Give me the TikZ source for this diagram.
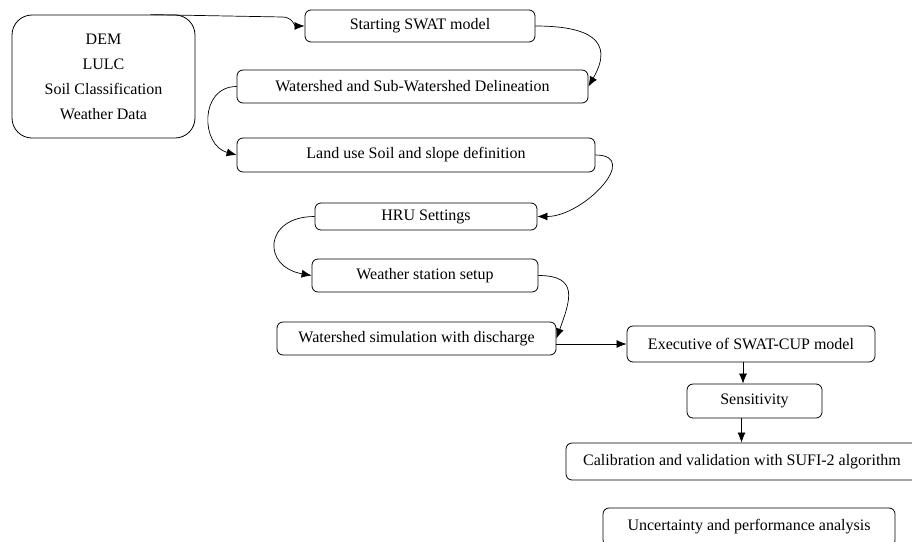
\documentclass[tikz,border=0pt]{standalone}
\usepackage{fontspec}
\setmainfont{Liberation Serif}
\usepackage{tikz}
\usetikzlibrary{shapes, arrows.meta, positioning, calc}

\begin{document}
\begin{tikzpicture}[x=1pt, y=1pt,
  stepbox/.style={draw, rounded corners=6pt, line width=0.8pt, inner sep=0pt,
    font=\fontsize{16}{19}\selectfont, align=center},
  flow/.style={-{Latex[length=10pt,width=8pt]}, line width=0.7pt}]
\useasboundingbox (0,0) rectangle (912,-541);
\clip (0,0) rectangle (912,-541);

% Input data
\node[stepbox, rounded corners=20pt, minimum width=183pt, minimum height=123pt] (data) at (103.5,-76.5)
  {DEM\\[6pt]LULC\\[6pt]Soil Classification\\[6pt]Weather Data};

% SWAT steps
\node[stepbox, minimum width=230pt, minimum height=32pt] (start) at (420,-26) {Starting SWAT model};
\node[stepbox, minimum width=351pt, minimum height=33pt] (delin) at (412.5,-86.5) {Watershed and Sub-Watershed Delineation};
\node[stepbox, minimum width=358pt, minimum height=34pt] (landuse) at (416,-155) {Land use Soil and slope definition};
\node[stepbox, minimum width=222pt, minimum height=27pt] (hru) at (426,-216.5) {HRU Settings};
\node[stepbox, minimum width=226pt, minimum height=33pt] (weather) at (425,-275.5) {Weather station setup};
\node[stepbox, minimum width=279pt, minimum height=33pt] (sim) at (416.5,-338.5) {Watershed simulation with discharge};

% SWAT-CUP steps
\node[stepbox, minimum width=248pt, minimum height=36pt] (exec) at (751,-344) {Executive of SWAT-CUP model};
\node[stepbox, minimum width=135pt, minimum height=34pt] (sens) at (754.5,-401) {Sensitivity};
\node[stepbox, minimum width=352pt, minimum height=37pt] (calib) at (742,-461.5) {Calibration and validation with SUFI-2 algorithm};
\node[stepbox, minimum width=292pt, minimum height=38pt] (uncert) at (749,-527) {Uncertainty and performance analysis};

% Connectors
\draw[flow] ([xshift=-45pt]data.north east) -- ($(start.west)+(-22,9)$) to[out=0, in=180] (start.west);
\draw[flow] (start.east) to[out=0, in=60, looseness=1.7] (delin.east);
\draw[flow] (delin.west) to[out=180, in=165, looseness=1.4] (landuse.west);
\draw[flow] (landuse.east) to[out=0, in=0, looseness=1.4] (hru.east);
\draw[flow] (hru.west) to[out=180, in=170, looseness=2.2] (weather.west);
\draw[flow] (weather.east) to[out=0, in=70, looseness=1.6] (sim.east);
\draw[flow] (sim.east |- exec.west) -- (exec.west);
\draw[flow] ([xshift=-8pt]exec.south) -- ([xshift=-8pt]exec.south |- sens.north);
\draw[flow] ([xshift=-13pt]sens.south) -- ([xshift=-13pt]sens.south |- calib.north);
\end{tikzpicture}
\end{document}
